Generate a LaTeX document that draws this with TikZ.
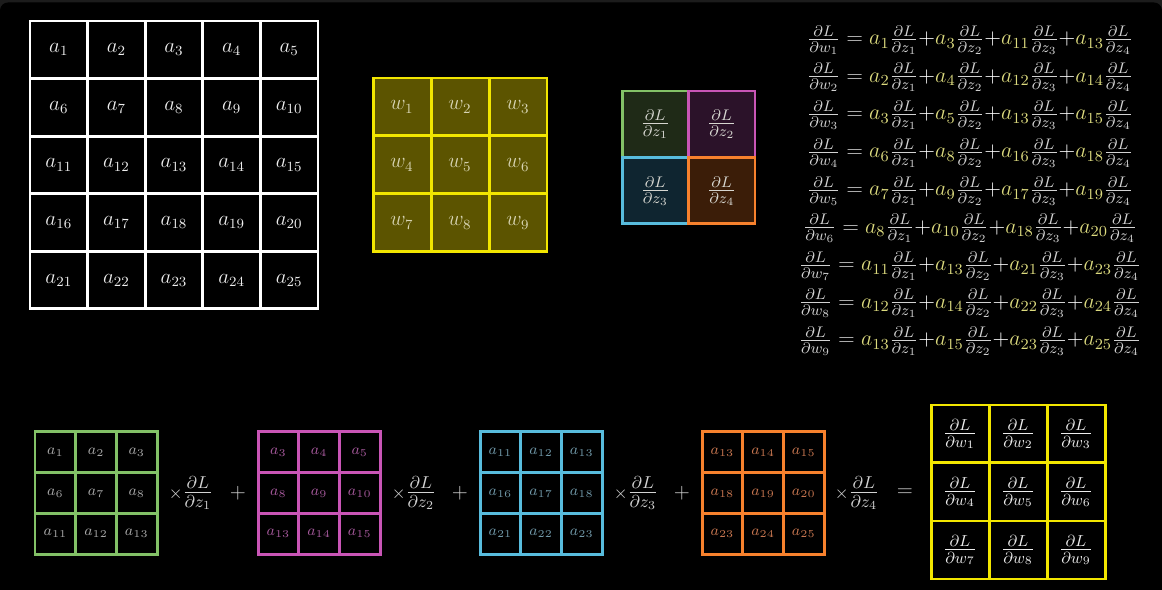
\documentclass[tikz,border=0pt]{standalone}
\usepackage{fix-cm}
\usepackage{amsmath}
\usepackage{xcolor}
\usepackage{tikz}

\definecolor{bggrey}{HTML}{1C1C1C}
\definecolor{agrey}{HTML}{EDEDED}
\definecolor{wline}{HTML}{F2E600}
\definecolor{wfill}{HTML}{5C5400}
\definecolor{wtext}{HTML}{D8D5B4}
\definecolor{eqgrey}{HTML}{D2D2D2}
\definecolor{ayellow}{HTML}{DCDA7E}
\definecolor{greenline}{HTML}{83C167}
\definecolor{pinkline}{HTML}{C955B6}
\definecolor{blueline}{HTML}{58BCDD}
\definecolor{orangeline}{HTML}{F7812D}
\definecolor{greenfill}{HTML}{1F2A17}
\definecolor{pinkfill}{HTML}{2B1229}
\definecolor{bluefill}{HTML}{0F2530}
\definecolor{orangefill}{HTML}{3B1D08}
\definecolor{greentext}{HTML}{A6A6A6}
\definecolor{pinktext}{HTML}{A4589A}
\definecolor{bluetext}{HTML}{7098A8}
\definecolor{orangetext}{HTML}{C77650}
\definecolor{dztext}{HTML}{D6D6D0}

\newcommand{\dL}[1]{\ensuremath{\tfrac{\partial L}{\partial #1}}}
\newcommand{\ya}[1]{\textcolor{ayellow}{a_{#1}}}
\newcommand{\gradeq}[5]{$\dL{w_{#1}} = \ya{#2}\dL{z_1}{\color{white}+}\ya{#3}\dL{z_2}{\color{white}+}\ya{#4}\dL{z_3}{\color{white}+}\ya{#5}\dL{z_4}$}
\newcommand{\timesdz}[1]{${\scriptstyle\times}\dL{z_{#1}}$}

\begin{document}
\begin{tikzpicture}[x=0.02cm,y=-0.02cm,
    acell/.style={draw=white,line width=1.7pt,minimum size=1.152cm,inner sep=0pt,text=agrey,font=\fontsize{12}{14}\selectfont},
    wcell/.style={draw=wline,fill=wfill,line width=1.7pt,minimum size=1.16cm,inner sep=0pt,text=wtext,font=\fontsize{12}{14}\selectfont},
    dzcell/.style={draw=#1line,fill=#1fill,line width=1.7pt,minimum size=1.33cm,inner sep=0pt,text=dztext,font=\fontsize{12.5}{14}\selectfont},
    scell/.style={draw=#1line,line width=1.7pt,minimum size=0.814cm,inner sep=0pt,text=#1text,font=\fontsize{8.5}{10}\selectfont},
    dwcell/.style={draw=wline,line width=1.7pt,minimum size=1.16cm,inner sep=0pt,text=agrey,font=\fontsize{13}{15}\selectfont},
    eqn/.style={text=eqgrey,inner sep=0pt,font=\fontsize{12.5}{14}\selectfont},
    op/.style={text=eqgrey,inner sep=0pt,font=\fontsize{12}{14}\selectfont},
    timesop/.style={text=eqgrey,inner sep=0pt,font=\fontsize{14}{16}\selectfont}]
  \useasboundingbox (0,0) rectangle (1162,590);
  \fill[bggrey] (0,0) rectangle (1162,590);
  \fill[black,rounded corners=0.16cm] (0,2.5) rectangle (1162,600);

  % input a
  \foreach \r in {0,...,4}
    \foreach \c in {0,...,4} {
      \pgfmathtruncatemacro\k{5*\r+\c+1}
      \node[acell] (a\k) at (58.8+57.6*\c,49.8+57.6*\r) {$a_{\k}$};
    }

  % kernel w
  \foreach \r in {0,...,2}
    \foreach \c in {0,...,2} {
      \pgfmathtruncatemacro\k{3*\r+\c+1}
      \node[wcell] (w\k) at (402+58*\c,107+58*\r) {$w_{\k}$};
    }

  % dL/dz
  \node[dzcell=green] (dz1) at (655.25,124.25) {$\dL{z_1}$};
  \node[dzcell=pink] (dz2) at (721.75,124.25) {$\dL{z_2}$};
  \node[dzcell=blue] (dz3) at (655.25,190.75) {$\dL{z_3}$};
  \node[dzcell=orange] (dz4) at (721.75,190.75) {$\dL{z_4}$};

  % gradient equations
  \node[eqn] (eq1) at (970,40) {\gradeq{1}{1}{3}{11}{13}};
  \node[eqn] (eq2) at (970,77.5) {\gradeq{2}{2}{4}{12}{14}};
  \node[eqn] (eq3) at (970,115) {\gradeq{3}{3}{5}{13}{15}};
  \node[eqn] (eq4) at (970,153) {\gradeq{4}{6}{8}{16}{18}};
  \node[eqn] (eq5) at (970,191) {\gradeq{5}{7}{9}{17}{19}};
  \node[eqn] (eq6) at (970,228.5) {\gradeq{6}{8}{10}{18}{20}};
  \node[eqn] (eq7) at (970,266) {\gradeq{7}{11}{13}{21}{23}};
  \node[eqn] (eq8) at (970,303.5) {\gradeq{8}{12}{14}{22}{24}};
  \node[eqn] (eq9) at (970,341) {\gradeq{9}{13}{15}{23}{25}};

  % patches times dL/dz
  \foreach \name/\col/\off/\x in {g/green/0/35,p/pink/2/258,b/blue/10/480,o/orange/12/702}
    \foreach \r in {0,...,2}
      \foreach \c in {0,...,2} {
        \pgfmathtruncatemacro\k{5*\r+\c+1+\off}
        \pgfmathtruncatemacro\n{3*\r+\c+1}
        \node[scell=\col] (\name\n) at (\x+20.35+40.7*\c,452.3+40.7*\r) {$a_{\k}$};
      }
  \node[timesop] (times1) at (191,493) {\timesdz{1}};
  \node[op] (plus1) at (238,493) {$+$};
  \node[timesop] (times2) at (414,493) {\timesdz{2}};
  \node[op] (plus2) at (460,493) {$+$};
  \node[timesop] (times3) at (636,493) {\timesdz{3}};
  \node[op] (plus3) at (682,493) {$+$};
  \node[timesop] (times4) at (857,493) {\timesdz{4}};
  \node[op] (equal) at (905,493) {$=$};

  % dL/dw
  \foreach \r in {0,...,2}
    \foreach \c in {0,...,2} {
      \pgfmathtruncatemacro\k{3*\r+\c+1}
      \node[dwcell] (dw\k) at (960+58*\c,434+58*\r) {$\dL{w_{\k}}$};
    }
\end{tikzpicture}
\end{document}
